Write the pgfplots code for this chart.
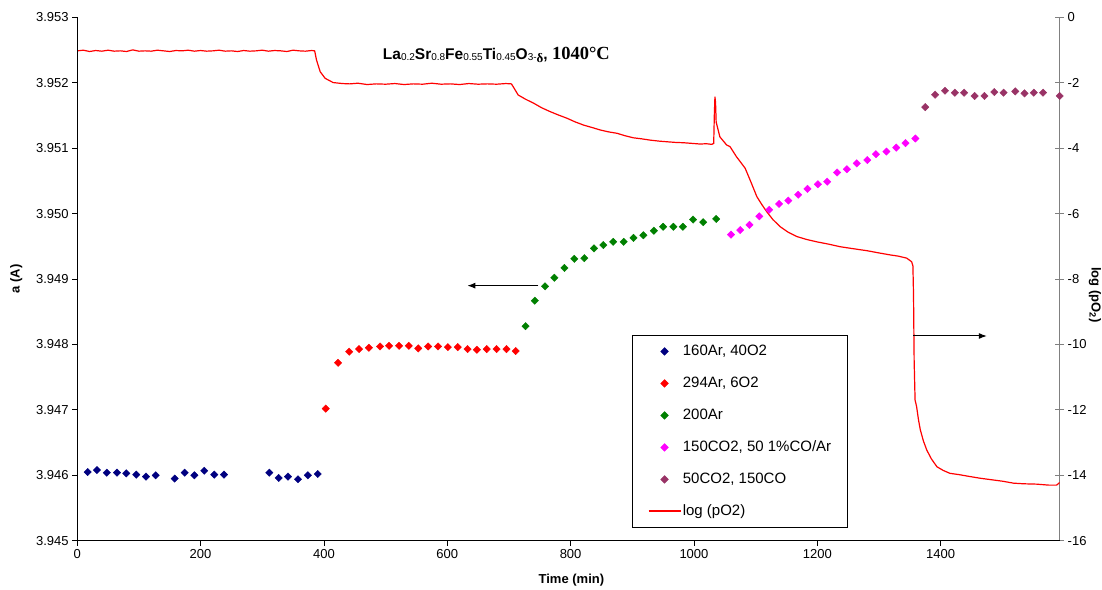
\documentclass[border=0pt]{standalone}
\usepackage{fontspec}
\setmainfont{Liberation Sans}
\newfontfamily\tnr{Liberation Serif}
\usepackage{pgfplots}
\pgfplotsset{compat=1.18}
\usetikzlibrary{arrows.meta}

\definecolor{navyd}{RGB}{0,0,128}
\definecolor{grn}{RGB}{0,128,0}
\definecolor{mag}{RGB}{255,0,255}
\definecolor{plum}{RGB}{153,51,102}

\newcommand{\sub}[1]{{\fontsize{10bp}{10bp}\selectfont\mdseries\raisebox{-1.5bp}{#1}}}

\pgfplotsset{
  basestyle/.style={
    scale only axis, width=982.5bp, height=523.2bp,
    xmin=0, xmax=1593,
    tick label style={font=\fontsize{13bp}{15bp}\selectfont},
    /pgf/number format/assume math mode=true,
    /pgf/number format/1000 sep={},
    axis line style={-, line width=0.8bp},
    tick style={line width=0.8bp, black},
    major tick length=5bp,
  },
  mk/.style={only marks, mark=square*, mark size=2.6bp,
    mark options={rotate=45, draw=#1, fill=#1},
    legend image code/.code={\path (0bp,0bp) (32bp,0bp); \draw[##1] plot coordinates {(16bp,0bp)};}},
}

\begin{document}
\begin{tikzpicture}
% right axis: log(pO2)
\begin{axis}[basestyle, name=ax2,
  axis x line=none, axis y line*=right,
  ymin=-16, ymax=0, ytick={-16,-14,...,0},
  tick align=center, major tick length=9bp,
  y axis line style={draw=gray}, ytick style={draw=gray},
  ylabel={\bfseries log (pO\textsubscript{2})},
  every axis y label/.style={at={(axis description cs:1.036,0.47)}, anchor=center, rotate=-90, font=\fontsize{13bp}{15bp}\selectfont},
]
\addplot[red, line width=1.2bp] coordinates {
(0,-1.02)(10,-1.00)(20,-1.04)(30,-1.01)(40,-1.03)(50,-1.00)(60,-1.03)(70,-1.02)(80,-1.04)(90,-0.99)
(100,-1.03)(110,-1.02)(120,-1.03)(130,-1.00)(140,-1.02)(150,-1.04)(160,-1.01)(170,-1.02)(180,-1.00)(190,-1.03)
(200,-1.01)(210,-1.03)(220,-1.02)(230,-1.00)(240,-1.03)(250,-1.02)(260,-1.04)(270,-1.01)(280,-1.03)(290,-1.02)
(300,-1.00)(310,-1.03)(320,-1.01)(330,-1.02)(340,-1.04)(350,-1.00)(360,-1.02)(370,-1.03)(380,-1.01)(385,-1.02)
(388,-1.30)(394,-1.66)(402,-1.86)(415,-1.99)(430,-2.02)(442,-2.03)(455,-2.01)(470,-2.05)(485,-2.03)(500,-2.04)
(515,-2.02)(530,-2.05)(545,-2.03)(560,-2.04)(575,-2.01)(590,-2.04)(605,-2.03)(620,-2.05)(635,-2.02)(650,-2.04)
(665,-2.03)(680,-2.04)(695,-2.02)(704,-2.03)(708,-2.15)(715,-2.37)(727,-2.50)(740,-2.62)(753,-2.76)(767,-2.88)
(780,-2.98)(794,-3.08)(807,-3.19)(821,-3.29)(834,-3.36)(848,-3.44)(862,-3.50)(875,-3.54)(889,-3.62)(902,-3.68)
(915,-3.71)(929,-3.75)(943,-3.78)(956,-3.80)(970,-3.82)(983,-3.83)(997,-3.85)(1010,-3.87)(1020,-3.86)(1029,-3.88)
(1032,-3.85)(1033,-3.0)(1034,-2.42)(1035,-2.6)(1036,-3.2)(1038,-3.35)(1042,-3.65)(1053,-3.90)(1058.5,-3.95)(1069,-4.26)
(1083,-4.61)(1091,-4.97)(1102,-5.48)(1110,-5.72)(1118,-5.94)(1128,-6.18)(1140,-6.40)(1153,-6.57)(1167,-6.70)(1183,-6.79)
(1199,-6.86)(1218,-6.93)(1237,-7.01)(1258,-7.07)(1280,-7.13)(1300,-7.20)(1318,-7.26)(1332,-7.30)(1345,-7.36)(1353,-7.47)
(1355,-7.6)(1356,-8.5)(1357,-10.5)(1358.5,-11.7)(1361,-11.9)(1364,-12.3)(1367,-12.61)(1372,-12.95)(1377.5,-13.23)(1385,-13.50)
(1394,-13.74)(1404,-13.85)(1415,-13.94)(1430,-13.98)(1445,-14.03)(1464,-14.09)(1480,-14.13)(1500,-14.18)(1518,-14.24)(1535,-14.26)
(1555,-14.27)(1575,-14.30)(1588,-14.30)(1593,-14.22)
};
\end{axis}

% left axis: lattice parameter
\begin{axis}[basestyle, name=ax,
  axis x line*=bottom, axis y line*=left,
  tick align=outside,
  ymin=3.945, ymax=3.953,
  ytick={3.945,3.946,3.947,3.948,3.949,3.950,3.951,3.952,3.953},
  yticklabel style={/pgf/number format/.cd, fixed, fixed zerofill, precision=3},
  scaled y ticks=false,
  xtick={0,200,400,600,800,1000,1200,1400},
  xlabel={\bfseries Time (min)},
  ylabel={\bfseries a (A)},
  every axis x label/.style={at={(axis description cs:0.503,-0.075)}, anchor=center, font=\fontsize{13bp}{15bp}\selectfont},
  every axis y label/.style={at={(axis description cs:-0.062,0.5)}, anchor=center, rotate=90, font=\fontsize{13bp}{15bp}\selectfont},
  clip=false,
  legend cell align=left,
  legend style={at={(rel axis cs:0.565,0.393)}, anchor=north west,
    draw=black, line width=0.8bp, fill=white,
    font=\fontsize{15bp}{17bp}\selectfont,
    inner xsep=15bp, inner ysep=8bp, row sep=16bp,
    nodes={inner sep=1.5bp, text height=10.5bp, text depth=2.5bp, anchor=west}},
]
\addplot[mk=navyd] coordinates {
(17,3.94605)(32,3.94608)(48,3.94604)(64.5,3.94604)(79.6,3.94603)(95.8,3.94601)(111.6,3.94598)(127.3,3.94600)
(158,3.94595)(174.3,3.94604)(190,3.94600)(206,3.94607)(222.3,3.94601)(238,3.94601)
(311.5,3.94604)(326.7,3.94596)(341.8,3.94598)(358,3.94594)(374,3.94600)(390,3.94602)
};
\addlegendentry{160Ar, 40O2}
\addplot[mk=red] coordinates {
(403,3.94702)(423,3.94772)(441,3.94789)(457,3.94793)(473,3.94795)(491,3.94797)(505.6,3.94798)(521.8,3.94798)
(537.6,3.94798)(553,3.94794)(569,3.94797)(585,3.94797)(601,3.94796)(617,3.94796)(633,3.94793)(648,3.94792)
(664,3.94793)(680,3.94793)(696,3.94793)(711,3.94790)
};
\addlegendentry{294Ar, 6O2}
\addplot[mk=grn] coordinates {
(727,3.94828)(742,3.94867)(758.6,3.94889)(773.6,3.94902)(790,3.94917)(806,3.94931)(822.3,3.94932)(838,3.94947)
(853,3.94952)(869,3.94957)(886,3.94957)(902,3.94963)(918,3.94967)(935,3.94974)(950,3.94980)(966.6,3.94980)
(982,3.94980)(998.6,3.94991)(1015,3.94987)(1036,3.94992)
};
\addlegendentry{200Ar}
\addplot[mk=mag] coordinates {
(1060,3.94968)(1075,3.94975)(1090,3.94983)(1106,3.94996)(1122,3.95006)(1138,3.95015)(1153,3.95020)(1169,3.95029)
(1184,3.95038)(1201,3.95045)(1216,3.95049)(1232,3.95063)(1248,3.95068)(1264,3.95077)(1281,3.95082)(1295,3.95091)
(1312,3.95095)(1328,3.95101)(1343,3.95108)(1359,3.95115)
};
\addlegendentry{150CO2, 50 1\%CO/Ar}
\addplot[mk=plum] coordinates {
(1375,3.95163)(1391,3.95182)(1407,3.95188)(1423,3.95185)(1438,3.95185)(1455,3.95180)(1471,3.95180)(1487,3.95186)
(1502,3.95185)(1521,3.95187)(1536,3.95184)(1551,3.95185)(1566,3.95185)(1593,3.95180)
};
\addlegendentry{50CO2, 150CO}
\addlegendimage{red, line width=1.6bp, legend image code/.code={\draw[draw=red, line width=1.6bp] (0bp,0.3bp) -- (32bp,0.3bp);}}
\addlegendentry{log (pO2)}

\draw[-{Latex[length=8bp,width=6bp]}, line width=1bp] (axis cs:747.7,3.94890) -- (axis cs:632.6,3.94890);
\draw[-{Latex[length=8bp,width=6bp]}, line width=1bp] (axis cs:1355.8,3.94813) -- (axis cs:1474.8,3.94813);

\node[anchor=base west, inner sep=0pt] at (axis description cs:0.311,0.920)
  {\fontsize{15.5bp}{18bp}\selectfont\bfseries La\sub{0.2}Sr\sub{0.8}Fe\sub{0.55}Ti\sub{0.45}O\sub{3-}{\tnr\fontsize{13bp}{13bp}\selectfont\raisebox{-3bp}{δ}},\ {\tnr\fontsize{18.5bp}{20bp}\selectfont 1040°C}};
\end{axis}

\pgfresetboundingbox
\path[use as bounding box] ([shift={(-77.2bp,-49.3bp)}]ax.south west) rectangle ([shift={(42.3bp,17.5bp)}]ax.north east);
\end{tikzpicture}
\end{document}
